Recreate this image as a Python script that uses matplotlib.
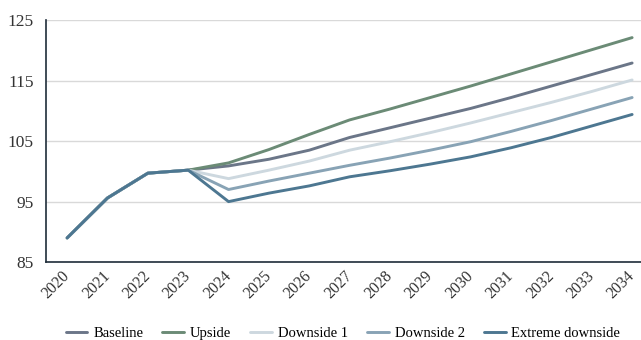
import matplotlib.pyplot as plt
from matplotlib.transforms import ScaledTranslation

years = list(range(2020, 2035))

baseline = [89.0, 95.6, 99.7, 100.2, 100.9, 102.0, 103.5, 105.6, 107.2, 108.8,
            110.4, 112.2, 114.1, 116.0, 117.9]
upside = [89.0, 95.6, 99.7, 100.2, 101.4, 103.6, 106.1, 108.5, 110.3, 112.2,
          114.1, 116.1, 118.1, 120.1, 122.1]
downside1 = [89.0, 95.6, 99.7, 100.2, 98.8, 100.2, 101.7, 103.5, 104.9, 106.4,
             108.0, 109.7, 111.4, 113.2, 115.1]
downside2 = [89.0, 95.6, 99.7, 100.2, 97.0, 98.4, 99.7, 101.0, 102.2, 103.5,
             104.9, 106.6, 108.4, 110.3, 112.2]
extreme = [89.0, 95.6, 99.7, 100.2, 95.0, 96.4, 97.6, 99.1, 100.1, 101.2,
           102.4, 103.9, 105.6, 107.5, 109.4]

labels = ['Baseline', 'Upside', 'Downside 1', 'Downside 2', 'Extreme downside']
colors = ['#6b7688', '#6b8b76', '#cdd8df', '#88a3b5', '#4d7791']
series = [baseline, upside, downside1, downside2, extreme]

plt.rcParams['font.family'] = ['Liberation Serif', 'DejaVu Serif']

fig = plt.figure(figsize=(6.41, 3.40), dpi=100)
ax = fig.add_axes([0.072, 0.229, 0.928, 0.712])

for vals, lab, col in zip(series, labels, colors):
    ax.plot(years, vals, color=col, lw=2.1, label=lab, solid_capstyle='round')

ax.set_ylim(85, 125)
ax.set_yticks([85, 95, 105, 115, 125])
ax.set_xlim(2019.48, 2034.22)
ax.set_xticks(years)
ax.set_xticklabels([str(y) for y in years], rotation=45, ha='right',
                   rotation_mode='anchor', fontsize=11.5, color='#333333')
ax.tick_params(axis='y', labelsize=12.5, length=0, pad=9, labelcolor='#333333')
ax.tick_params(axis='x', length=0, pad=4)

# nudge year labels a little left so 2034 stays inside the figure
shift = ScaledTranslation(-4 / 72, 0, fig.dpi_scale_trans)
for t in ax.get_xticklabels():
    t.set_transform(t.get_transform() + shift)

ax.grid(axis='y', color='#d9d9d9', lw=1)
ax.set_axisbelow(True)
for s in ['top', 'right']:
    ax.spines[s].set_visible(False)
for s in ['left', 'bottom']:
    ax.spines[s].set_color('#1f2d3a')
    ax.spines[s].set_linewidth(1.2)

fig.legend(loc='center', bbox_to_anchor=(0.535, 0.018), ncol=5, frameon=False,
           fontsize=10.5, handlelength=1.5, handletextpad=0.4, columnspacing=1.3)

fig.savefig('out.png', dpi=100)
